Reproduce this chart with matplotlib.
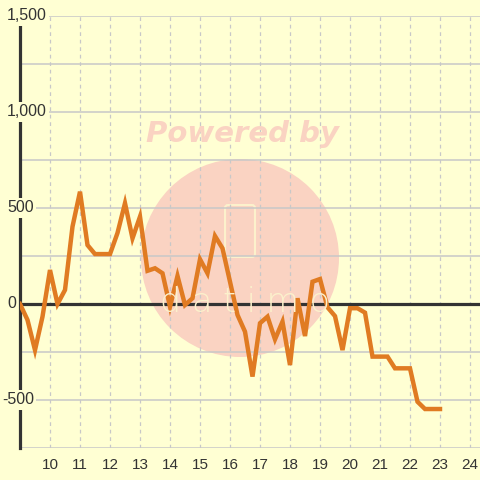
import matplotlib
matplotlib.use("Agg")
import matplotlib.pyplot as plt
from matplotlib.patches import Circle, FancyBboxPatch

plt.rcParams['font.family'] = ['Liberation Sans', 'DejaVu Sans']

# data
x = [9.0, 9.25, 9.5, 9.75, 10.0, 10.25, 10.5, 10.75, 11.0, 11.25, 11.5, 11.75,
     12.0, 12.25, 12.5, 12.75, 13.0, 13.25, 13.5, 13.75, 14.0, 14.25, 14.5, 14.75,
     15.0, 15.25, 15.5, 15.75, 16.0, 16.25, 16.5, 16.75, 17.0, 17.25, 17.5, 17.75,
     18.0, 18.25, 18.5, 18.75, 19.0, 19.25, 19.5, 19.75, 20.0, 20.25, 20.5, 20.75,
     21.0, 21.25, 21.5, 21.75, 22.0, 22.25, 22.5, 22.75, 23.0]
y = [0, -83, -240, -66, 177, 0, 73, 403, 585, 307, 260, 260,
     260, 370, 525, 342, 455, 173, 186, 160, -14, 146, -5, 30,
     233, 160, 354, 290, 116, -57, -144, -378, -100, -66, -184, -92,
     -318, 30, -167, 116, 130, -17, -63, -240, -22, -22, -45, -274,
     -274, -274, -335, -335, -335, -509, -547, -547, -547]

xticks = list(range(10, 25))
yticks = [1500, 1000, 500, 0, -500]
ygrid = [1250, 750, 250, -250, -750]

bg = '#ffffd3'
fig = plt.figure(figsize=(4.8, 4.8), dpi=100, facecolor=bg)
ax = fig.add_axes([20/480, 32/480, 460/480, 432/480])
ax.set_facecolor(bg)
ax.set_xlim(9, 24 + 1/3)
ax.set_ylim(-750, 1500)

# watermark
wm = '#fad3c2'
ax.add_patch(Circle((240/480, 1 - 258/480), 99/480, transform=fig.transFigure,
                    facecolor=wm, edgecolor='none', zorder=0.5, clip_on=False))
fig.text(242/480, 1 - 134/480, 'Powered by', color=wm, fontsize=21, fontweight='bold',
         style='italic', family='DejaVu Sans', ha='center', va='center', zorder=0.6)
ax.add_patch(FancyBboxPatch((226/480, 1 - 256/480), 28/480, 50/480,
                            boxstyle='round,pad=0.002,rounding_size=0.006',
                            transform=fig.transFigure, facecolor='none',
                            edgecolor='#fcf1cc', lw=1.5, zorder=0.6, clip_on=False))
fig.text(245/480, 1 - 303/480, 'd a t i m o', color='#fcf1cc', fontsize=24,
         family='DejaVu Sans', fontweight='light', ha='center', va='center', zorder=0.6)

# grid
for v in xticks:
    ax.axvline(v, color='#c8c8c8', lw=0.9, ls=(0, (3, 3)), zorder=1)
for v in yticks + ygrid:
    if v != 0:
        ax.axhline(v, color='#c8c8c8', lw=1.1, zorder=1)
ax.axhline(0, color='#333333', lw=2.3, zorder=2)

ax.plot(x, y, color='#e07b22', lw=3.2, zorder=3, solid_joinstyle='miter')

for s in ['top', 'right', 'bottom']:
    ax.spines[s].set_visible(False)
ax.spines['left'].set_color('#333333')
ax.spines['left'].set_linewidth(2.3)
ax.spines['left'].set_zorder(2)

ax.set_yticks([])
ax.set_xticks(xticks)
ax.set_xticklabels([str(v) for v in xticks], fontsize=11, color='#333333')
ax.tick_params(axis='x', length=0, pad=7)

for v in yticks:
    lab = f'{abs(v):,}'
    xpos = (7 - 20) / 460
    if v < 0:
        lab = '-' + lab
        xpos = (2 - 20) / 460
    ax.text(xpos, v, lab, transform=ax.get_yaxis_transform(), ha='left', va='center',
            fontsize=11.5, color='#333333', zorder=4,
            bbox=dict(facecolor=bg, edgecolor='none', pad=1.5))

fig.savefig('out.png', dpi=100, facecolor=bg)
